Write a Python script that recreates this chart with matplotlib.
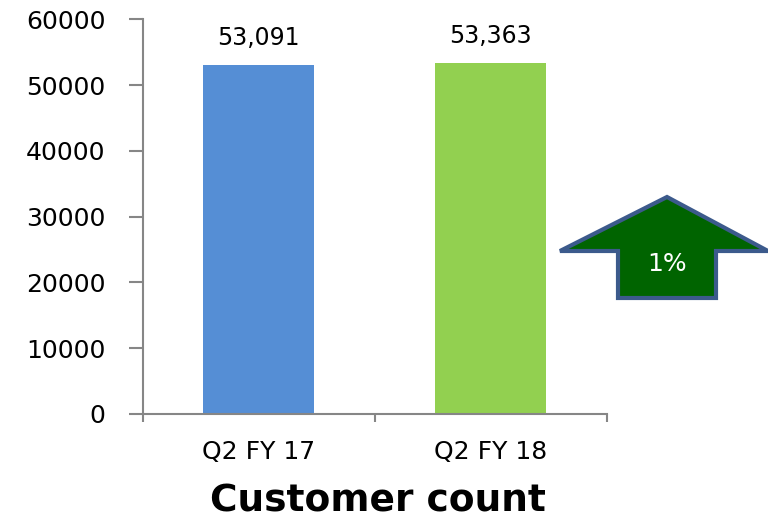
import matplotlib
matplotlib.use('Agg')
import matplotlib.pyplot as plt
from matplotlib.patches import Polygon

# datos
categorias = ['Q2 FY 17', 'Q2 FY 18']
clientes = [53091, 53363]
colores = ['#558ED5', '#92D050']
y_ticks = [0, 10000, 20000, 30000, 40000, 50000, 60000]
cambio_txt = '1%'
titulo = 'Customer count'

plt.rcParams['font.family'] = 'DejaVu Sans'
gris = '#868686'

fig = plt.figure(figsize=(7.68, 5.2), dpi=100)
ax = fig.add_axes([0.186, 0.204, 0.604, 0.759])

x = range(len(categorias))
bars = ax.bar(x, clientes, width=0.48, color=colores)

for bar, val in zip(bars, clientes):
    ax.text(bar.get_x() + bar.get_width() / 2, val + 2200, f'{val:,}',
            ha='center', va='bottom', fontsize=17)

ax.set_xlim(-0.5, len(categorias) - 0.5)
ax.set_ylim(0, 60000)
ax.set_yticks(y_ticks)
ax.set_yticklabels([str(v) for v in y_ticks], fontsize=18)

# ticks mayores en los bordes de categoria, etiquetas al centro
ax.set_xticks([i - 0.5 for i in range(len(categorias) + 1)])
ax.set_xticklabels([])
ax.set_xticks(list(x), minor=True)
ax.set_xticklabels(categorias, minor=True, fontsize=18)
ax.tick_params(axis='x', which='minor', length=0, pad=19)
ax.tick_params(axis='x', which='major', length=6, width=1.5, color=gris)
ax.tick_params(axis='y', length=10, width=1.5, color=gris, pad=17)

for s in ['top', 'right']:
    ax.spines[s].set_visible(False)
for s in ['left', 'bottom']:
    ax.spines[s].set_color(gris)
    ax.spines[s].set_linewidth(1.5)

fig.text(0.492, 0.036, titulo, ha='center', va='center',
         fontsize=27, fontweight='bold')

# flecha de variacion (coordenadas de figura)
W, H = 768, 520
pts = [(667, 197), (560, 251), (618, 251), (618, 298),
       (716, 298), (716, 251), (768, 251)]
flecha = Polygon([(px / W, 1 - py / H) for px, py in pts], closed=True,
                 facecolor='#006400', edgecolor='#3C5A8C', linewidth=3,
                 transform=fig.transFigure, clip_on=False)
fig.patches.append(flecha)
fig.text(667 / W, 1 - 264 / H, cambio_txt, color='white', fontsize=18,
         ha='center', va='center')

plt.savefig('out.png', dpi=100)
